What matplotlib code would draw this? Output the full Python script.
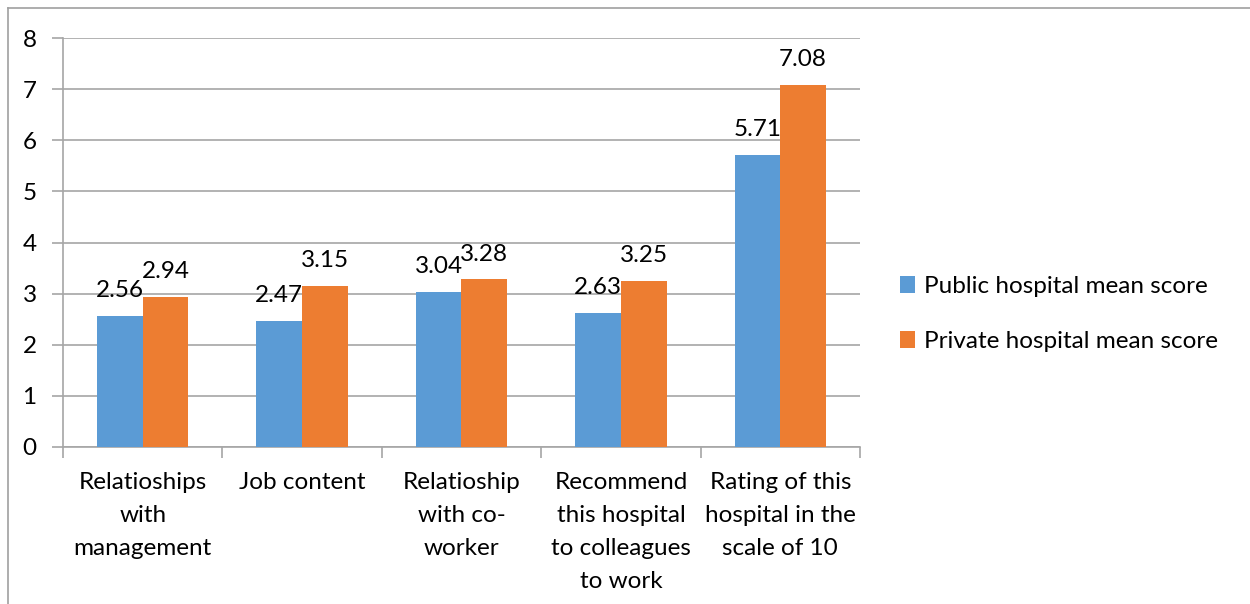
import matplotlib
matplotlib.use("Agg")
import matplotlib.pyplot as plt
import numpy as np

categories = [
    "Relatioships\nwith\nmanagement",
    "Job content",
    "Relatioship\nwith co-\nworker",
    "Recommend\nthis hospital\nto colleagues\nto work",
    "Rating of this\nhospital in the\nscale of 10",
]
public_scores = [2.56, 2.47, 3.04, 2.63, 5.71]
private_scores = [2.94, 3.15, 3.28, 3.25, 7.08]
series_names = ["Public hospital mean score", "Private hospital mean score"]
y_ticks = [0, 1, 2, 3, 4, 5, 6, 7, 8]

BLUE = "#5B9BD5"
ORANGE = "#ED7D31"
GRID = "#A6A6A6"

plt.rcParams["font.family"] = ["Lato", "DejaVu Sans"]
FS = 17.5

fig = plt.figure(figsize=(12.5, 6.04), dpi=100)
ax = fig.add_axes([0.0504, 0.26, 0.6376, 0.677])

x = np.arange(len(categories))
w = 0.287
b1 = ax.bar(x - w / 2, public_scores, w, color=BLUE, label=series_names[0], zorder=3)
b2 = ax.bar(x + w / 2, private_scores, w, color=ORANGE, label=series_names[1], zorder=3)

for bars, vals in ((b1, public_scores), (b2, private_scores)):
    for rect, v in zip(bars, vals):
        ax.annotate(f"{v:.2f}", (rect.get_x() + rect.get_width() / 2, v),
                    xytext=(0, 13.5), textcoords="offset points",
                    ha="center", va="baseline", fontsize=FS, color="black", zorder=4)

ax.set_xlim(-0.5, len(categories) - 0.5)
ax.set_ylim(0, 8)
ax.set_yticks(y_ticks)
ax.yaxis.grid(True, color=GRID, linewidth=1.2, zorder=0)
ax.set_axisbelow(True)

# category boundaries carry the tick marks; labels sit at category centres
ax.set_xticks(np.arange(len(categories) + 1) - 0.5, minor=False)
ax.set_xticklabels([])
ax.set_xticks(x, minor=True)
ax.set_xticklabels(categories, minor=True, fontsize=FS, linespacing=1.7, va="top")
ax.tick_params(axis="x", which="minor", length=0, pad=18)
ax.tick_params(axis="x", which="major", length=8, color=GRID, width=1.2)
ax.tick_params(axis="y", length=8, color=GRID, width=1.2, labelsize=FS, pad=11)

for side in ("top", "right"):
    ax.spines[side].set_visible(False)
for side in ("left", "bottom"):
    ax.spines[side].set_color(GRID)
    ax.spines[side].set_linewidth(1.2)

fig.legend(handles=[b1, b2], labels=series_names, loc="upper left",
           bbox_to_anchor=(0.7196, 0.543), frameon=False, fontsize=FS,
           handlelength=0.65, handleheight=0.65, handletextpad=0.35,
           labelspacing=1.4, borderaxespad=0, borderpad=0)

# outer frame: left and top edges
fig.add_artist(plt.Line2D([8 / 1250, 8 / 1250], [0, 1 - 8 / 604],
                          transform=fig.transFigure, color="#A0A0A0", linewidth=1.2))
fig.add_artist(plt.Line2D([8 / 1250, 1], [1 - 8 / 604, 1 - 8 / 604],
                          transform=fig.transFigure, color="#A0A0A0", linewidth=1.2))

fig.savefig("out.png", dpi=100)
